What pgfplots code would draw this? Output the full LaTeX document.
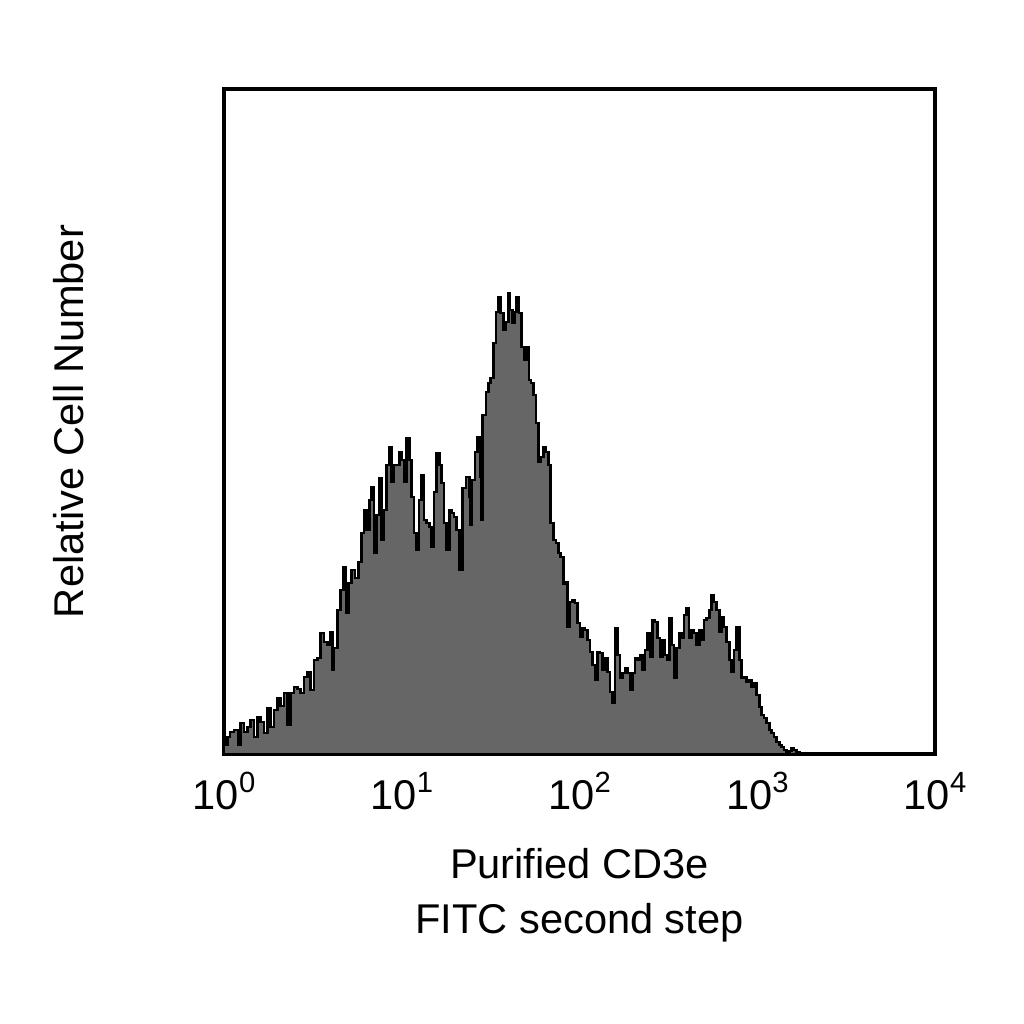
\documentclass[border=0pt]{standalone}
\usepackage{fontspec}
\setmainfont{Liberation Sans}
\usepackage{pgfplots}
\usepackage{pgfplotstable}
\pgfplotsset{compat=1.18}

% log10 of FITC intensity vs. event count
\pgfplotstableread{
decade count
0.0000 9
0.0186 17
0.0338 22
0.0563 24
0.0788 9
0.0940 31
0.1125 22
0.1311 27
0.1502 34
0.1688 17
0.1873 37
0.2065 32
0.2250 21
0.2436 46
0.2627 27
0.2813 44
0.2999 56
0.3190 48
0.3376 61
0.3561 29
0.3753 61
0.3938 67
0.4124 65
0.4315 61
0.4501 77
0.4686 82
0.4878 64
0.5063 94
0.5249 96
0.5440 121
0.5626 112
0.5812 109
0.6003 122
0.6093 84
0.6188 106
0.6374 144
0.6566 164
0.6712 187
0.6864 141
0.6993 171
0.7184 184
0.7370 176
0.7556 192
0.7747 221
0.7876 244
0.8028 224
0.8175 254
0.8310 267
0.8439 201
0.8591 239
0.8737 276
0.8872 214
0.9002 244
0.9153 289
0.9300 307
0.9435 272
0.9564 289
0.9716 289
0.9862 302
0.9997 294
1.0127 272
1.0278 316
1.0425 294
1.0560 257
1.0689 221
1.0841 204
1.0970 254
1.1122 279
1.1252 234
1.1404 231
1.1550 227
1.1685 207
1.1814 262
1.1966 301
1.2112 289
1.2248 271
1.2377 231
1.2529 204
1.2675 244
1.2810 241
1.2939 237
1.3091 224
1.3238 184
1.3429 266
1.3615 277
1.3800 257
1.3879 229
1.3935 274
1.4121 302
1.4251 317
1.4402 277
1.4476 234
1.4554 339
1.4740 362
1.4869 371
1.5004 376
1.5151 411
1.5302 442
1.5432 457
1.5567 441
1.5713 424
1.5865 432
1.5995 461
1.6090 444
1.6242 431
1.6332 442
1.6467 457
1.6597 441
1.6748 407
1.6878 394
1.7030 407
1.7159 374
1.7272 371
1.7401 359
1.7553 331
1.7683 292
1.7818 297
1.7964 307
1.8116 302
1.8245 289
1.8380 231
1.8526 214
1.8678 211
1.8808 201
1.8943 197
1.9089 170
1.9184 172
1.9314 127
1.9466 152
1.9617 154
1.9747 151
1.9877 131
2.0029 117
2.0180 126
2.0310 124
2.0439 114
2.0591 102
2.0721 89
2.0872 74
2.1002 102
2.1154 101
2.1305 84
2.1435 96
2.1564 82
2.1716 62
2.1868 51
2.1997 126
2.2127 99
2.2279 76
2.2430 81
2.2560 86
2.2690 81
2.2842 64
2.2993 81
2.3123 96
2.3252 94
2.3404 99
2.3556 84
2.3685 104
2.3815 121
2.3967 97
2.4118 134
2.4248 132
2.4377 116
2.4529 97
2.4681 114
2.4810 99
2.4940 94
2.5053 136
2.5188 109
2.5317 76
2.5469 106
2.5615 121
2.5750 116
2.5880 139
2.6031 146
2.6161 116
2.6313 124
2.6442 121
2.6594 109
2.6740 124
2.6875 114
2.7005 134
2.7157 136
2.7303 144
2.7438 159
2.7567 152
2.7719 144
2.7865 122
2.8001 137
2.8130 127
2.8282 112
2.8428 94
2.8563 82
2.8693 104
2.8844 127
2.8991 94
2.9126 76
2.9255 77
2.9407 72
2.9554 74
2.9689 67
2.9818 71
2.9970 59
3.0116 47
3.0251 39
3.0380 36
3.0532 31
3.0678 24
3.0814 21
3.0943 17
3.1095 12
3.1241 9
3.1376 7
3.1506 4
3.1657 2
3.1804 3
3.1939 6
3.2068 4
3.2220 2
3.2366 0
}\histdata

\definecolor{histgray}{HTML}{666666}
% decade label: 10 with a raised exponent
\newcommand{\decade}[1]{10\raisebox{4pt}{\fontsize{7.3}{8}\selectfont #1}}

\begin{document}
\begin{tikzpicture}
\begin{axis}[
    scale only axis,
    width=177.75pt, height=166.25pt,
    xmin=0, xmax=4, ymin=0, ymax=665,
    axis line style={line width=1pt},
    xtick={0,1,2,3,4},
    xticklabels={\decade{0},\decade{1},\decade{2},\decade{3},\decade{4}},
    ytick=\empty,
    major tick length=0pt,
    font=\fontsize{10.4}{12.5}\selectfont,
    xticklabel style={anchor=base, inner sep=0pt, yshift=-13.75pt, font=\fontsize{10.4}{12.5}\selectfont},
    xlabel={Purified CD3e\\FITC second step},
    xlabel style={at={(axis description cs:0.5,-0.1414)}, anchor=north, inner sep=0pt,
        align=center, font=\fontsize{10.4}{13.75}\selectfont},
    ylabel={Relative Cell Number},
    ylabel style={at={(axis description cs:-0.1983,0.5)}, rotate=0, anchor=base, inner sep=0pt,
        font=\fontsize{10.4}{12.5}\selectfont},
]
\addplot[const plot, fill=histgray, draw=black, line width=0.7pt] table[x=decade, y=count] {\histdata} \closedcycle;
\end{axis}
\path[use as bounding box] (-56pt,-67.5pt) rectangle (200pt,188.5pt);
\end{tikzpicture}
\end{document}
